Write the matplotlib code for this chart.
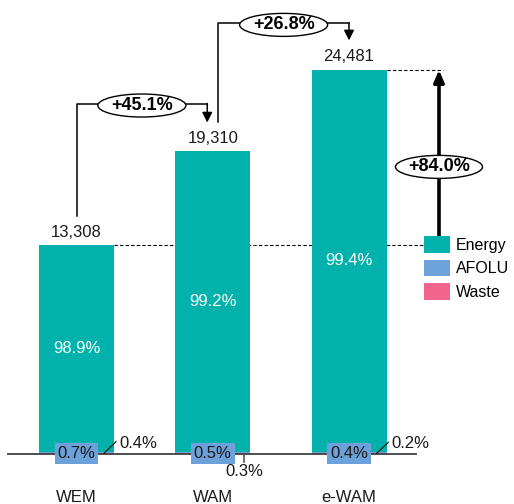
import matplotlib
matplotlib.use('Agg')
import matplotlib.pyplot as plt
from matplotlib.patches import Ellipse
import numpy as np

plt.rcParams['font.family'] = ['Liberation Sans', 'DejaVu Sans']

# Data
scenarios = ['WEM', 'WAM', 'e-WAM']
totals = [13308, 19310, 24481]
energy_pct = [98.9, 99.2, 99.4]
afolu_pct = [0.7, 0.5, 0.4]
waste_pct = [0.4, 0.3, 0.2]
growth_labels = ['+45.1%', '+26.8%']
overall_label = '+84.0%'

c_energy = '#00B2AB'
c_afolu = '#6CA2D9'
c_waste = '#F2648E'
c_text = '#1a1a1a'

totals = np.array(totals, dtype=float)
afolu = totals * np.array(afolu_pct) / 100
waste = totals * np.array(waste_pct) / 100
energy = totals - afolu - waste

# pixel -> data helpers (axes covers the whole figure)
PX = 1 / 136.25      # x data units per pixel
PY = 1 / 0.01569     # y data units per pixel

fig = plt.figure(figsize=(5.14, 5.04), dpi=100)
ax = fig.add_axes([0, 0, 1, 1])
ax.set_xlim(-76.5 * PX, (514 - 76.5) * PX)
ax.set_ylim(-50 * PY, 454 * PY)
ax.axis('off')

x = np.arange(len(scenarios))
w = 75 * PX
ax.bar(x, waste, w, color=c_waste, label='Waste', zorder=2)
ax.bar(x, afolu, w, bottom=waste, color=c_afolu, label='AFOLU', zorder=2)
ax.bar(x, energy, w, bottom=afolu + waste, color=c_energy, label='Energy', zorder=2)

# baseline
ax.plot([-68.5 * PX, 339.5 * PX], [0, 0], color='#404040', lw=1.3, zorder=3)

for i in range(len(scenarios)):
    ax.text(x[i], totals[i] + 13 * PY, f'{int(totals[i]):,}', ha='center', va='center',
            fontsize=12, color=c_text)
    ax.text(x[i], afolu[i] + waste[i] + energy[i] / 2, f'{energy_pct[i]}%', ha='center',
            va='center', fontsize=12, color='white', zorder=4)
    ax.text(x[i], 1 * PY, f'{afolu_pct[i]}%', ha='center', va='center', fontsize=12,
            color=c_text, zorder=5,
            bbox=dict(boxstyle='square,pad=0.18', fc=c_afolu, ec='none'))
    ax.text(x[i], -43 * PY, scenarios[i], ha='center', va='center', fontsize=12, color=c_text)

# waste leaders
ax.plot([x[0] + 27.5 * PX, x[0] + 39.5 * PX], [0.7 * PY, 12.3 * PY], color=c_text, lw=0.9, zorder=5)
ax.text(x[0] + 42.5 * PX, 11 * PY, f'{waste_pct[0]}%', ha='left', va='center', fontsize=12, color=c_text)
ax.plot([x[1] + 31.5 * PX, x[1] + 31.5 * PX], [-1 * PY, -8 * PY], color='#555555', lw=1.2, zorder=5)
ax.text(x[1] + 31.5 * PX, -18 * PY, f'{waste_pct[1]}%', ha='center', va='center', fontsize=12, color=c_text)
ax.plot([x[2] + 27.7 * PX, x[2] + 39.3 * PX], [0.7 * PY, 11.7 * PY], color=c_text, lw=0.9, zorder=5)
ax.text(x[2] + 42 * PX, 11 * PY, f'{waste_pct[2]}%', ha='left', va='center', fontsize=12, color=c_text)

# growth brackets
def bracket(x0, y0, x1, level, tip, label):
    ax.plot([x0, x0, x1], [y0, level, level], color='black', lw=1.1, zorder=3)
    ax.annotate('', xy=(x1, tip), xytext=(x1, level + 0.5 * PY),
                arrowprops=dict(arrowstyle='-|>,head_width=0.3,head_length=0.6',
                                color='black', lw=1.1, shrinkA=0, shrinkB=0), zorder=3)
    xm = (x0 + x1) / 2
    ax.add_patch(Ellipse((xm, level - 1.5 * PY), 88 * PX, 23 * PY, fc='white', ec='black',
                         lw=1.0, zorder=4))
    ax.text(xm, level - 1.5 * PY, label, ha='center', va='center', fontsize=13,
            fontweight='bold', color='black', zorder=5)

bracket(x[0], totals[0] + 29 * PY, x[1] - 5.5 * PX, totals[1] + 47 * PY, totals[1] + 28.5 * PY, growth_labels[0])
bracket(x[1] + 5.5 * PX, totals[1] + 29 * PY, x[2], totals[2] + 46.5 * PY, totals[2] + 29.5 * PY, growth_labels[1])

# overall change
xa = 362.5 * PX + x[0]
ax.plot([x[0] + w / 2, 348.5 * PX], [totals[0], totals[0]], color='black', lw=0.8, ls=(0, (3, 2)), zorder=1)
ax.plot([x[2] + w / 2, x[2] + 94 * PX], [totals[2], totals[2]], color='black', lw=0.8, ls=(0, (3, 2)), zorder=1)
ax.annotate('', xy=(xa, totals[2]), xytext=(xa, totals[0] + 8 * PY),
            arrowprops=dict(arrowstyle='-|>,head_width=0.3,head_length=0.7',
                            color='black', lw=2.6, shrinkA=0, shrinkB=0), zorder=3)
ym = totals[2] - 97 * PY
ax.add_patch(Ellipse((xa, ym), 87 * PX, 23 * PY, fc='white', ec='black', lw=1.0, zorder=4))
ax.text(xa, ym, overall_label, ha='center', va='center', fontsize=13, fontweight='bold',
        color='black', zorder=5)

handles, labels = ax.get_legend_handles_labels()
order = [2, 1, 0]
ax.legend([handles[i] for i in order], [labels[i] for i in order],
          loc='upper left', bbox_to_anchor=(424 / 514, 1 - 236 / 504), frameon=False,
          fontsize=11.5, handlelength=1.6, handleheight=1.25, labelspacing=0.42,
          handletextpad=0.4, borderpad=0, borderaxespad=0)

fig.savefig('out.png', dpi=100)
